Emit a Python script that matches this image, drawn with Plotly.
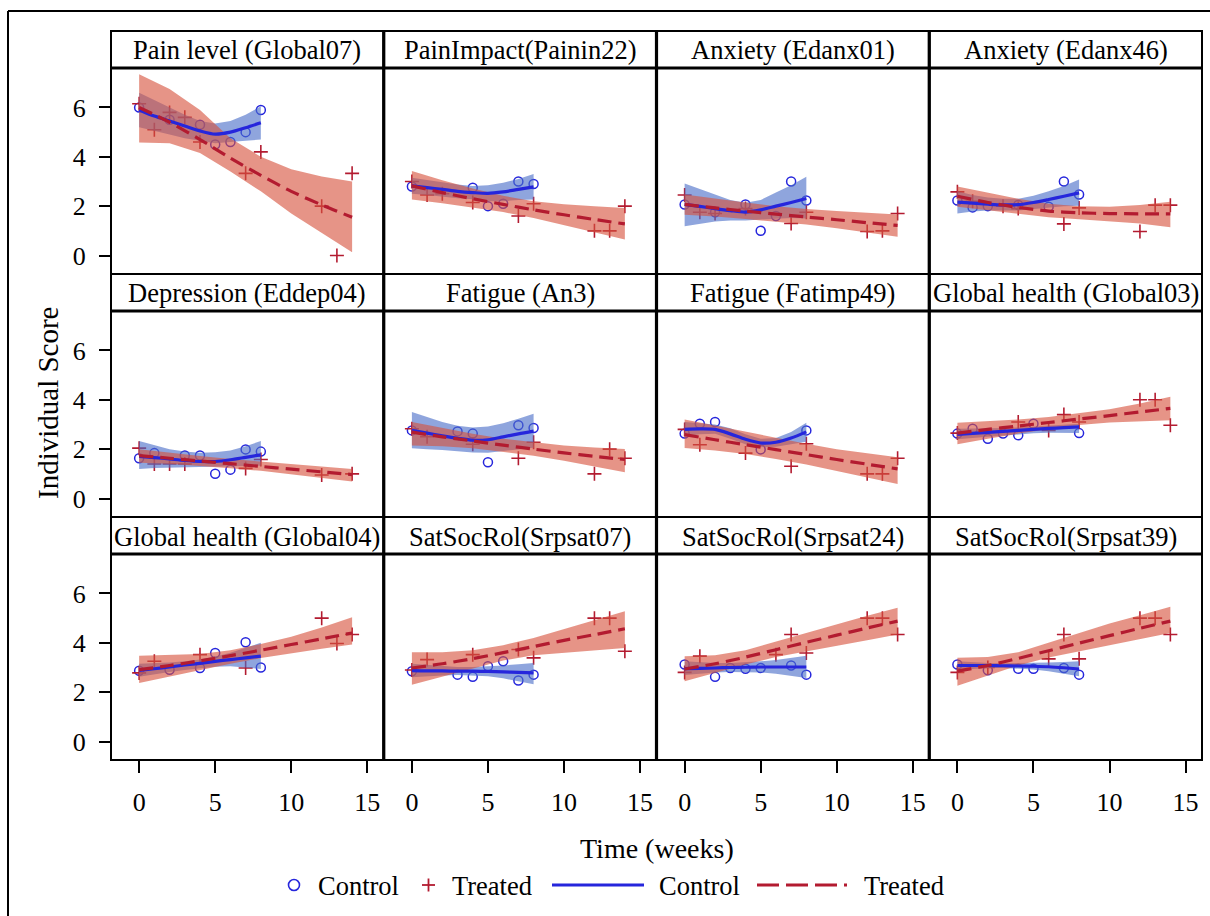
import plotly.graph_objects as go

W, H = 1210, 916
FONT = "Liberation Serif"

titles = [
    "Pain level (Global07)", "PainImpact(Painin22)", "Anxiety (Edanx01)", "Anxiety (Edanx46)",
    "Depression (Eddep04)", "Fatigue (An3)", "Fatigue (Fatimp49)", "Global health (Global03)",
    "Global health (Global04)", "SatSocRol(Srpsat07)", "SatSocRol(Srpsat24)", "SatSocRol(Srpsat39)",
]

# observed individual scores, control arm
ctrl_time = [
    [0, 2, 4, 5, 6, 7, 8], [0, 4, 5, 6, 7, 8], [0, 2, 4, 5, 6, 7, 8], [0, 1, 2, 4, 6, 7, 8],
    [0, 1, 3, 4, 5, 6, 7, 8], [0, 3, 4, 5, 7, 8], [0, 1, 2, 5, 8], [0, 1, 2, 3, 4, 5, 8],
    [0, 2, 4, 5, 7, 8], [0, 3, 4, 5, 6, 7, 8], [0, 2, 3, 4, 5, 7, 8], [0, 2, 4, 5, 7, 8],
]
ctrl_score = [
    [6.0, 5.5, 5.3, 4.5, 4.6, 5.0, 5.9], [2.8, 2.75, 2.0, 2.1, 3.0, 2.9],
    [2.07, 1.75, 2.07, 1.0, 1.6, 3.0, 2.23], [2.23, 1.95, 2.0, 2.05, 1.98, 3.0, 2.47],
    [1.63, 1.84, 1.74, 1.74, 1.0, 1.17, 1.99, 1.9], [2.76, 2.72, 2.63, 1.47, 2.97, 2.86],
    [2.63, 3.03, 3.1, 1.99, 2.76], [2.63, 2.83, 2.42, 2.63, 2.56, 3.03, 2.65],
    [2.87, 2.91, 2.98, 3.59, 4.02, 3.0], [2.85, 2.71, 2.62, 3.05, 3.25, 2.47, 2.71],
    [3.12, 2.62, 2.98, 2.95, 2.98, 3.08, 2.71], [3.12, 2.89, 2.95, 2.95, 2.98, 2.71],
]

# observed individual scores, treated arm
trt_time = [
    [0, 1, 2, 3, 4, 7, 8, 12, 13, 14], [0, 1, 2, 4, 7, 8, 12, 13, 14], [0, 1, 2, 4, 7, 8, 12, 13, 14],
    [0, 1, 3, 4, 7, 8, 12, 13, 14], [0, 1, 2, 3, 7, 8, 12, 14], [0, 1, 4, 7, 8, 12, 13, 14],
    [0, 1, 4, 7, 8, 12, 13, 14], [0, 4, 6, 7, 8, 12, 13, 14], [0, 1, 4, 7, 12, 13, 14],
    [0, 1, 4, 7, 8, 12, 13, 14], [0, 1, 6, 7, 8, 12, 13, 14], [0, 2, 6, 7, 8, 12, 13, 14],
]
trt_score = [
    [6.15, 5.1, 5.8, 5.6, 4.6, 3.33, 4.2, 2.0, 0.0, 3.33], [3.0, 2.45, 2.5, 2.15, 1.6, 2.1, 1.0, 1.0, 2.0],
    [2.45, 1.75, 1.7, 1.9, 1.3, 1.75, 0.97, 1.0, 1.7], [2.58, 2.2, 2.0, 1.9, 1.28, 1.93, 0.97, 2.04, 2.04],
    [2.04, 1.4, 1.4, 1.4, 1.22, 1.58, 0.95, 1.0], [2.83, 2.5, 2.2, 1.63, 2.28, 1.0, 2.0, 1.63],
    [2.8, 2.18, 1.84, 1.31, 2.22, 1.0, 1.0, 1.63], [2.65, 3.1, 2.76, 3.4, 3.1, 4.0, 4.0, 2.97],
    [2.78, 3.25, 3.52, 2.98, 5.0, 3.97, 4.34], [2.9, 3.32, 3.52, 3.73, 3.39, 5.0, 5.0, 3.66],
    [2.8, 3.46, 3.52, 4.34, 3.59, 5.0, 5.0, 4.34], [2.8, 3.0, 3.35, 4.34, 3.35, 5.0, 5.0, 4.34],
]

# fitted curves with confidence limits
ctrl_grid = [0, 1, 2, 3, 4, 5, 6, 7, 8]
trt_grid = [0, 2, 4, 6, 8, 10, 12, 14]

ctrl_fit = [
    [5.9, 5.65, 5.45, 5.25, 5.05, 4.92, 5.0, 5.18, 5.38],
    [2.82, 2.75, 2.68, 2.6, 2.55, 2.52, 2.58, 2.68, 2.78],
    [2.07, 1.99, 1.9, 1.82, 1.76, 1.85, 2.0, 2.15, 2.31],
    [2.16, 2.12, 2.08, 2.05, 2.06, 2.15, 2.27, 2.4, 2.54],
    [1.71, 1.66, 1.6, 1.54, 1.5, 1.5, 1.57, 1.67, 1.77],
    [2.76, 2.65, 2.54, 2.44, 2.36, 2.38, 2.5, 2.62, 2.73],
    [2.8, 2.82, 2.8, 2.62, 2.4, 2.25, 2.28, 2.45, 2.7],
    [2.6, 2.64, 2.68, 2.72, 2.76, 2.8, 2.84, 2.87, 2.9],
    [2.88, 2.95, 3.02, 3.1, 3.17, 3.25, 3.32, 3.39, 3.46],
    [2.87, 2.86, 2.86, 2.85, 2.85, 2.84, 2.82, 2.8, 2.78],
    [2.95, 2.96, 2.98, 3.0, 3.01, 3.02, 3.02, 3.02, 3.02],
    [3.08, 3.08, 3.08, 3.07, 3.06, 3.05, 3.03, 2.99, 2.94],
]
ctrl_lo = [
    [5.2, 5.05, 4.9, 4.75, 4.65, 4.55, 4.6, 4.65, 4.7],
    [2.5, 2.45, 2.4, 2.32, 2.28, 2.2, 2.2, 2.25, 2.27],
    [1.19, 1.3, 1.38, 1.42, 1.42, 1.46, 1.5, 1.52, 1.5],
    [1.7, 1.78, 1.82, 1.82, 1.82, 1.88, 1.94, 2.0, 2.02],
    [1.2, 1.24, 1.27, 1.28, 1.28, 1.28, 1.3, 1.32, 1.33],
    [2.04, 2.0, 1.97, 1.92, 1.86, 1.85, 1.9, 1.98, 2.06],
    [2.5, 2.6, 2.62, 2.42, 2.2, 2.08, 2.1, 2.2, 2.3],
    [2.4, 2.45, 2.5, 2.55, 2.6, 2.64, 2.66, 2.66, 2.65],
    [2.62, 2.72, 2.82, 2.9, 2.98, 3.03, 3.05, 3.0, 2.94],
    [2.6, 2.65, 2.68, 2.7, 2.68, 2.64, 2.56, 2.45, 2.32],
    [2.7, 2.75, 2.8, 2.82, 2.82, 2.8, 2.75, 2.67, 2.57],
    [2.9, 2.95, 2.98, 2.98, 2.96, 2.92, 2.85, 2.76, 2.64],
]
ctrl_hi = [
    [6.6, 6.3, 6.0, 5.7, 5.45, 5.35, 5.45, 5.7, 6.05],
    [3.15, 3.05, 2.95, 2.88, 2.82, 2.85, 2.95, 3.1, 3.3],
    [2.92, 2.7, 2.45, 2.25, 2.14, 2.25, 2.55, 2.85, 3.19],
    [2.6, 2.45, 2.35, 2.3, 2.3, 2.42, 2.6, 2.82, 3.08],
    [2.33, 2.15, 2.0, 1.9, 1.85, 1.87, 1.95, 2.12, 2.33],
    [3.51, 3.3, 3.1, 2.95, 2.88, 2.92, 3.05, 3.23, 3.44],
    [3.1, 3.05, 3.0, 2.85, 2.6, 2.42, 2.45, 2.7, 3.07],
    [2.83, 2.83, 2.84, 2.86, 2.88, 2.91, 2.95, 2.99, 3.03],
    [3.15, 3.17, 3.2, 3.25, 3.32, 3.45, 3.6, 3.8, 4.0],
    [3.15, 3.1, 3.05, 3.02, 3.02, 3.04, 3.08, 3.13, 3.18],
    [3.25, 3.2, 3.18, 3.18, 3.2, 3.25, 3.3, 3.38, 3.48],
    [3.25, 3.2, 3.18, 3.17, 3.17, 3.18, 3.2, 3.22, 3.25],
]
trt_fit = [
    [6.0, 5.4, 4.7, 3.95, 3.25, 2.6, 2.05, 1.55],
    [2.82, 2.55, 2.3, 2.07, 1.85, 1.65, 1.46, 1.28],
    [2.07, 1.93, 1.8, 1.68, 1.56, 1.45, 1.33, 1.22],
    [2.4, 2.15, 1.95, 1.8, 1.73, 1.7, 1.69, 1.69],
    [1.74, 1.63, 1.52, 1.41, 1.3, 1.19, 1.08, 0.97],
    [2.69, 2.5, 2.33, 2.16, 2.0, 1.85, 1.71, 1.58],
    [2.59, 2.38, 2.18, 1.98, 1.78, 1.58, 1.39, 1.2],
    [2.65, 2.8, 2.94, 3.08, 3.22, 3.36, 3.51, 3.65],
    [2.91, 3.08, 3.27, 3.48, 3.7, 3.93, 4.16, 4.4],
    [2.98, 3.15, 3.36, 3.6, 3.85, 4.1, 4.33, 4.57],
    [2.94, 3.15, 3.42, 3.72, 4.02, 4.31, 4.6, 4.88],
    [2.85, 3.08, 3.37, 3.68, 3.99, 4.29, 4.59, 4.88],
]
trt_lo = [
    [4.58, 4.55, 4.15, 3.4, 2.6, 1.7, 0.9, 0.13],
    [2.27, 2.12, 1.95, 1.76, 1.52, 1.25, 0.95, 0.65],
    [1.65, 1.58, 1.48, 1.38, 1.26, 1.1, 0.94, 0.76],
    [1.98, 1.83, 1.68, 1.55, 1.47, 1.4, 1.3, 1.15],
    [1.45, 1.41, 1.33, 1.23, 1.12, 0.98, 0.84, 0.69],
    [2.15, 2.12, 2.04, 1.9, 1.73, 1.53, 1.3, 1.06],
    [2.05, 1.95, 1.8, 1.6, 1.38, 1.12, 0.86, 0.59],
    [2.2, 2.42, 2.63, 2.82, 2.98, 3.08, 3.14, 3.17],
    [2.37, 2.62, 2.9, 3.15, 3.38, 3.58, 3.76, 3.93],
    [2.3, 2.62, 2.95, 3.28, 3.5, 3.6, 3.7, 3.79],
    [2.44, 2.78, 3.12, 3.42, 3.65, 3.88, 4.1, 4.34],
    [2.26, 2.68, 3.08, 3.4, 3.65, 3.9, 4.15, 4.4],
]
trt_hi = [
    [7.35, 6.75, 5.9, 4.75, 4.0, 3.5, 3.2, 3.0],
    [3.42, 3.05, 2.72, 2.42, 2.2, 2.08, 2.0, 1.93],
    [2.47, 2.3, 2.15, 2.0, 1.88, 1.8, 1.73, 1.66],
    [2.8, 2.55, 2.3, 2.1, 2.0, 1.98, 2.05, 2.18],
    [2.0, 1.85, 1.72, 1.6, 1.5, 1.4, 1.3, 1.2],
    [3.1, 2.85, 2.62, 2.42, 2.27, 2.15, 2.07, 2.01],
    [3.2, 2.95, 2.7, 2.45, 2.22, 2.0, 1.82, 1.67],
    [3.07, 3.12, 3.2, 3.3, 3.45, 3.62, 3.85, 4.12],
    [3.48, 3.5, 3.55, 3.7, 3.95, 4.25, 4.62, 5.04],
    [3.62, 3.62, 3.7, 3.9, 4.2, 4.55, 4.9, 5.28],
    [3.46, 3.5, 3.7, 4.05, 4.42, 4.78, 5.1, 5.42],
    [3.39, 3.42, 3.62, 4.0, 4.4, 4.78, 5.12, 5.46],
]

x_ticks = [0, 5, 10, 15]
y_ticks = [0, 2, 4, 6]

BLUE = "#2626dc"
RED = "#b31b30"
BLUE_BAND = "rgba(75,110,200,0.62)"
RED_BAND = "rgba(214,82,62,0.62)"

# pixel layout of the panel grid
X0, X1 = 111, 1202
COL_W = (X1 - X0) / 4
ROWS = [(31, 68, 274), (274, 311, 517), (517, 554, 760)]  # strip top, panel top, panel bottom


def fx(p):
    return p / W


def fy(p):
    return 1 - p / H


fig = go.Figure()
layout = {}
shapes = []
annotations = []

for i in range(12):
    r, c = divmod(i, 4)
    sfx = "" if i == 0 else str(i + 1)
    xa, ya = "x" + sfx, "y" + sfx
    left, right = X0 + c * COL_W, X0 + (c + 1) * COL_W
    s_top, p_top, p_bot = ROWS[r]

    fig.add_trace(go.Scatter(
        x=ctrl_time[i], y=ctrl_score[i], mode="markers", xaxis=xa, yaxis=ya,
        marker=dict(symbol="circle-open", size=9, color=BLUE, line=dict(width=1.5, color=BLUE)),
        showlegend=False, name="Control"))
    fig.add_trace(go.Scatter(
        x=trt_time[i], y=trt_score[i], mode="markers", xaxis=xa, yaxis=ya,
        marker=dict(symbol="cross-thin-open", size=10, color=RED, line=dict(width=1.6, color=RED)),
        showlegend=False, name="Treated"))
    fig.add_trace(go.Scatter(
        x=ctrl_grid + ctrl_grid[::-1], y=ctrl_hi[i] + ctrl_lo[i][::-1],
        fill="toself", fillcolor=BLUE_BAND, line=dict(width=0), mode="lines",
        xaxis=xa, yaxis=ya, showlegend=False, hoverinfo="skip"))
    fig.add_trace(go.Scatter(
        x=trt_grid + trt_grid[::-1], y=trt_hi[i] + trt_lo[i][::-1],
        fill="toself", fillcolor=RED_BAND, line=dict(width=0), mode="lines",
        xaxis=xa, yaxis=ya, showlegend=False, hoverinfo="skip"))
    fig.add_trace(go.Scatter(
        x=ctrl_grid, y=ctrl_fit[i], mode="lines", xaxis=xa, yaxis=ya,
        line=dict(color=BLUE, width=3.2, shape="spline", smoothing=0.8),
        showlegend=False, name="Control"))
    fig.add_trace(go.Scatter(
        x=trt_grid, y=trt_fit[i], mode="lines", xaxis=xa, yaxis=ya,
        line=dict(color=RED, width=3.2, dash="14px,7px", shape="spline", smoothing=0.8),
        showlegend=False, name="Treated"))

    layout["xaxis" + sfx] = dict(
        domain=[fx(left), fx(right)], range=[-1.85, 16.08], anchor=ya,
        tickvals=x_ticks, showticklabels=(r == 2), ticks="outside" if r == 2 else "",
        ticklen=12, tickwidth=1.6, tickcolor="black", ticklabelstandoff=7,
        showgrid=False, zeroline=False, showline=False,
        tickfont=dict(family=FONT, size=26, color="black"))
    layout["yaxis" + sfx] = dict(
        domain=[fy(p_bot), fy(p_top)], range=[-0.75, 7.6], anchor=xa,
        tickvals=y_ticks, showticklabels=(c == 0), ticks="outside" if c == 0 else "",
        ticklen=11, tickwidth=1.6, tickcolor="black", ticklabelstandoff=8,
        showgrid=False, zeroline=False, showline=False,
        tickfont=dict(family=FONT, size=26, color="black"))

    # strip header and panel frame
    for (y0, y1) in [(s_top, p_top), (p_top, p_bot)]:
        shapes.append(dict(type="rect", xref="paper", yref="paper",
                           x0=fx(left), x1=fx(right), y0=fy(y1), y1=fy(y0),
                           line=dict(color="black", width=2), fillcolor="rgba(0,0,0,0)"))
    shapes.append(dict(type="line", xref="paper", yref="paper",
                       x0=fx(left), x1=fx(right), y0=fy(p_top), y1=fy(p_top),
                       line=dict(color="black", width=3.2)))
    annotations.append(dict(text=titles[i], xref="paper", yref="paper",
                            x=fx((left + right) / 2), y=fy((s_top + p_top) / 2 + 1),
                            xanchor="center", yanchor="middle", showarrow=False,
                            font=dict(family=FONT, size=26.5, color="black")))

# heavier dividers between columns
for c in range(1, 4):
    xd = X0 + c * COL_W
    shapes.append(dict(type="line", xref="paper", yref="paper",
                       x0=fx(xd), x1=fx(xd), y0=fy(760), y1=fy(31),
                       line=dict(color="black", width=3.2)))

# outer page frame (top and left)
shapes.append(dict(type="line", xref="paper", yref="paper", x0=fx(8), x1=1.0,
                   y0=fy(11), y1=fy(11), line=dict(color="black", width=2)))
shapes.append(dict(type="line", xref="paper", yref="paper", x0=fx(8), x1=fx(8),
                   y0=0.0, y1=fy(11), line=dict(color="black", width=2)))

# axis titles
annotations.append(dict(text="Individual Score", xref="paper", yref="paper",
                        x=fx(48), y=fy(403), textangle=-90, showarrow=False,
                        xanchor="center", yanchor="middle",
                        font=dict(family=FONT, size=29, color="black")))
annotations.append(dict(text="Time (weeks)", xref="paper", yref="paper",
                        x=fx((X0 + X1) / 2), y=fy(848), showarrow=False,
                        xanchor="center", yanchor="middle",
                        font=dict(family=FONT, size=28, color="black")))

# legend row
LY = 885
shapes.append(dict(type="circle", xref="paper", yref="paper",
                   x0=fx(288.5), x1=fx(299.5), y0=fy(LY + 5.5), y1=fy(LY - 5.5),
                   line=dict(color=BLUE, width=1.6)))
shapes.append(dict(type="line", xref="paper", yref="paper",
                   x0=fx(422), x1=fx(435), y0=fy(LY), y1=fy(LY), line=dict(color=RED, width=1.8)))
shapes.append(dict(type="line", xref="paper", yref="paper",
                   x0=fx(428.5), x1=fx(428.5), y0=fy(LY + 6.5), y1=fy(LY - 6.5),
                   line=dict(color=RED, width=1.8)))
shapes.append(dict(type="line", xref="paper", yref="paper",
                   x0=fx(552), x1=fx(644), y0=fy(LY), y1=fy(LY), line=dict(color=BLUE, width=3.2)))
shapes.append(dict(type="line", xref="paper", yref="paper",
                   x0=fx(757), x1=fx(847), y0=fy(LY), y1=fy(LY),
                   line=dict(color=RED, width=3.2, dash="22px,7px")))
for label, xpos in [("Control", 316), ("Treated", 450), ("Control", 657), ("Treated", 862)]:
    annotations.append(dict(text=label, xref="paper", yref="paper", x=fx(xpos), y=fy(LY + 1),
                            xanchor="left", yanchor="middle", showarrow=False,
                            font=dict(family=FONT, size=26.5, color="black")))

fig.update_layout(
    width=W, height=H, margin=dict(l=0, r=0, t=0, b=0),
    paper_bgcolor="white", plot_bgcolor="white",
    shapes=shapes, annotations=annotations, showlegend=False,
    **layout,
)

fig.write_html("out.html")
